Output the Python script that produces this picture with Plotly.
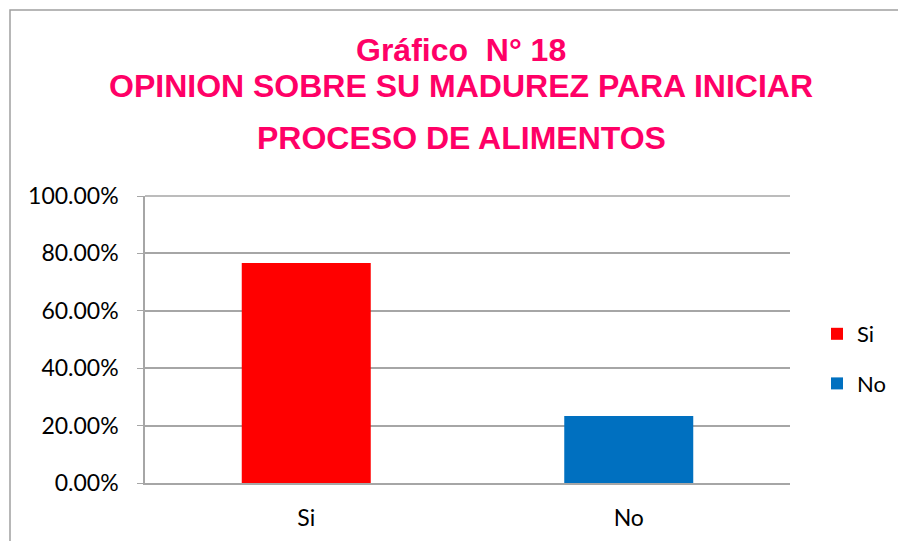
import plotly.graph_objects as go

categories = ["Si", "No"]
percentages = [0.7667, 0.2333]
bar_colors = ["#FF0000", "#0070C0"]

title_lines = [
    "Gráfico  N° 18",
    "OPINION SOBRE SU MADUREZ PARA INICIAR",
    "PROCESO DE ALIMENTOS",
]

W, H = 898, 541
L, R, T, B = 145, 108, 196, 58
TITLE_COLOR = "#FF0066"
GRID = "#A6A6A6"

pw, ph = W - L - R, H - T - B


def px_x(v):
    return (v - L) / pw


def px_y(v):
    return (H - B - v) / ph


fig = go.Figure()
for i, (cat, val, col) in enumerate(zip(categories, percentages, bar_colors)):
    fig.add_trace(
        go.Bar(
            x=[cat], y=[val],
            name=cat,
            marker=dict(color=col, line=dict(width=0)),
            width=0.4,
            legendgroup=f"g{i}",
        )
    )

# title lines, placed by pixel row from the top of the page
title_y = [50, 86, 138]
for text, py in zip(title_lines, title_y):
    fig.add_annotation(
        text=f"<b>{text}</b>",
        xref="paper", yref="paper",
        x=px_x(461), xanchor="center",
        y=px_y(py), yanchor="middle",
        showarrow=False,
        font=dict(family="Liberation Sans, Arial", size=32, color=TITLE_COLOR),
    )

# chart-area border (only left and top are inside the picture)
fig.add_shape(
    type="rect", xref="paper", yref="paper",
    x0=px_x(10), x1=px_x(W + 20), y0=px_y(10), y1=px_y(H + 20),
    line=dict(color="#A0A0A0", width=1.5), layer="below",
)
# top edge of the plot area
fig.add_shape(type="line", xref="paper", yref="paper", x0=0, x1=1, y0=1, y1=1,
              line=dict(color=GRID, width=1.5))

fig.update_layout(
    width=W, height=H,
    margin=dict(l=L, r=R, t=T, b=B, autoexpand=False),
    paper_bgcolor="white",
    plot_bgcolor="white",
    barmode="overlay",
    font=dict(family="Lato, Open Sans, sans-serif", size=23, color="#000000"),
    showlegend=True,
    legend=dict(
        xref="container", yref="container",
        x=817 / W, xanchor="left",
        y=1 - 313 / H, yanchor="top",
        tracegroupgap=18,
        traceorder="grouped",
        font=dict(size=22),
        itemwidth=30,
        bgcolor="rgba(0,0,0,0)",
    ),
    xaxis=dict(
        showgrid=False,
        showline=True, linecolor=GRID, linewidth=1.5,
        ticks="", tickfont=dict(size=23),
        ticklabelstandoff=14,
    ),
    yaxis=dict(
        range=[0, 1],
        tickvals=[0, 0.2, 0.4, 0.6, 0.8, 1.0],
        tickformat=".2%",
        showgrid=True, gridcolor=GRID, gridwidth=1.5,
        showline=True, linecolor=GRID, linewidth=1.5,
        zeroline=False,
        ticks="outside", ticklen=6, tickcolor=GRID,
        tickfont=dict(size=23),
        ticklabelstandoff=14,
    ),
)

fig.write_html(
    "out.html",
    config={"displayModeBar": False},
    post_script="document.body.style.margin='0';",
)
